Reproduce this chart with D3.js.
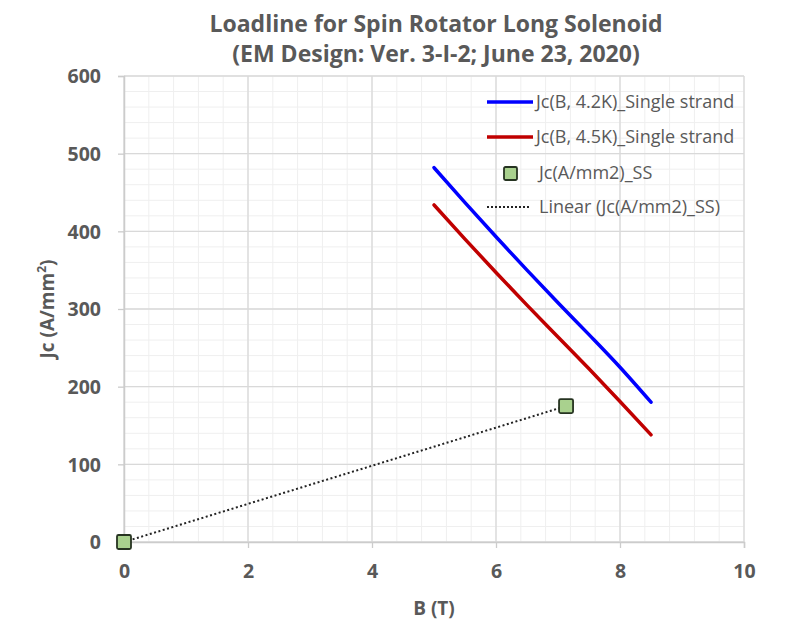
<!DOCTYPE html>
<html>
<head>
<meta charset="utf-8">
<script src="https://cdn.jsdelivr.net/npm/d3@7"></script>
<style>
  body { margin: 0; background: #fff; }
  svg { font-family: "Open Sans", "Noto Sans", sans-serif; }
</style>
</head>
<body>
<svg id="chart" width="790" height="620"></svg>
<script>
// curve samples, B in tesla, Jc in A/mm2
const bValues = [5.0, 5.5, 6.0, 6.5, 7.0, 7.5, 8.0, 8.5];
const jc42 = [482, 437, 393, 350, 308, 267, 225, 180];
const jc45 = [434, 390, 347, 305, 264, 223, 181, 138];
const ssB = [0, 7.13];
const ssJc = [0, 175];
const xTicks = [0, 2, 4, 6, 8, 10];
const yTicks = [0, 100, 200, 300, 400, 500, 600];
const legendLabels = [
  "Jc(B, 4.2K)_Single strand",
  "Jc(B, 4.5K)_Single strand",
  "Jc(A/mm2)_SS",
  "Linear (Jc(A/mm2)_SS)"
];

const svg = d3.select("#chart");
const margin = { left: 124, right: 46, top: 76, bottom: 78 };
const width = 790, height = 620;
const textColor = "#595959";

const x = d3.scaleLinear().domain([0, 10]).range([margin.left, width - margin.right]);
const y = d3.scaleLinear().domain([0, 600]).range([height - margin.bottom, margin.top]);

// minor grid
svg.append("g")
  .selectAll("line.vminor")
  .data(d3.range(0, 10.01, 0.4))
  .enter().append("line")
  .attr("x1", d => x(d)).attr("x2", d => x(d))
  .attr("y1", y(0)).attr("y2", y(600))
  .attr("stroke", "#efefef").attr("stroke-width", 1);
svg.append("g")
  .selectAll("line.hminor")
  .data(d3.range(0, 600.1, 20))
  .enter().append("line")
  .attr("x1", x(0)).attr("x2", x(10))
  .attr("y1", d => y(d)).attr("y2", d => y(d))
  .attr("stroke", "#efefef").attr("stroke-width", 1);

// major grid
svg.append("g")
  .selectAll("line")
  .data(xTicks)
  .enter().append("line")
  .attr("x1", d => x(d)).attr("x2", d => x(d))
  .attr("y1", y(0)).attr("y2", y(600))
  .attr("stroke", "#d9d9d9").attr("stroke-width", 1.3);
svg.append("g")
  .selectAll("line")
  .data(yTicks)
  .enter().append("line")
  .attr("x1", x(0)).attr("x2", x(10))
  .attr("y1", d => y(d)).attr("y2", d => y(d))
  .attr("stroke", "#d9d9d9").attr("stroke-width", 1.3);

// axes
const xAxis = svg.append("g")
  .attr("transform", `translate(0,${y(0)})`)
  .call(d3.axisBottom(x).tickValues(xTicks).tickSize(6).tickPadding(16));
const yAxis = svg.append("g")
  .attr("transform", `translate(${x(0)},0)`)
  .call(d3.axisLeft(y).tickValues(yTicks).tickSize(6).tickPadding(17));
[xAxis, yAxis].forEach(g => {
  g.select(".domain").attr("stroke", "#cccccc").attr("stroke-width", 1.5);
  g.selectAll(".tick line").attr("stroke", "#cccccc").attr("stroke-width", 1.3);
  g.selectAll(".tick text")
    .attr("fill", textColor)
    .attr("font-size", 19.5)
    .attr("font-weight", "bold")
    .attr("font-family", "'Open Sans', sans-serif");
});
yAxis.selectAll(".tick text").attr("dy", "0.35em");

// curves
const line = d3.line().x(d => x(d[0])).y(d => y(d[1])).curve(d3.curveMonotoneX);
svg.append("path")
  .datum(bValues.map((b, i) => [b, jc42[i]]))
  .attr("d", line)
  .attr("fill", "none").attr("stroke", "#0000ff").attr("stroke-width", 3.5)
  .attr("stroke-linecap", "round");
svg.append("path")
  .datum(bValues.map((b, i) => [b, jc45[i]]))
  .attr("d", line)
  .attr("fill", "none").attr("stroke", "#c00000").attr("stroke-width", 3.5)
  .attr("stroke-linecap", "round");

// linear trend
svg.append("line")
  .attr("x1", x(ssB[0])).attr("y1", y(ssJc[0]))
  .attr("x2", x(ssB[1])).attr("y2", y(ssJc[1]))
  .attr("stroke", "#222").attr("stroke-width", 2)
  .attr("stroke-dasharray", "2,2.5");

// SS points
svg.append("g")
  .selectAll("rect")
  .data(ssB.map((b, i) => [b, ssJc[i]]))
  .enter().append("rect")
  .attr("x", d => x(d[0]) - 7).attr("y", d => y(d[1]) - 7)
  .attr("width", 14).attr("height", 14).attr("rx", 1.5)
  .attr("fill", "#a9d18e").attr("stroke", "#263321").attr("stroke-width", 1.8);

// legend
const legend = svg.append("g");
const legendY = [102, 137, 173, 207];
legendLabels.forEach((label, i) => {
  const g = legend.append("g").attr("transform", `translate(487,${legendY[i]})`);
  if (i === 0 || i === 1) {
    g.append("line").attr("x1", 0).attr("x2", 46).attr("y1", 0).attr("y2", 0)
      .attr("stroke", i === 0 ? "#0000ff" : "#c00000").attr("stroke-width", 3.5);
  } else if (i === 2) {
    g.append("rect").attr("x", 17).attr("y", -6).attr("width", 13).attr("height", 13)
      .attr("rx", 1.5).attr("fill", "#a9d18e").attr("stroke", "#263321").attr("stroke-width", 1.8);
  } else {
    g.append("line").attr("x1", 0).attr("x2", 43).attr("y1", 0).attr("y2", 0)
      .attr("stroke", "#222").attr("stroke-width", 2).attr("stroke-dasharray", "2,2");
  }
  g.append("text")
    .attr("x", i < 2 ? 49 : 52).attr("y", 0).attr("dy", "0.35em")
    .attr("fill", textColor).attr("font-size", 18)
    .text(label);
});

// titles
const title = svg.append("text")
  .attr("x", 436).attr("text-anchor", "middle")
  .attr("fill", textColor).attr("font-size", 23).attr("font-weight", "bold");
title.append("tspan").attr("x", 436).attr("y", 32).text("Loadline for Spin Rotator Long Solenoid");
title.append("tspan").attr("x", 436).attr("y", 62).text("(EM Design: Ver. 3-I-2; June 23, 2020)");

svg.append("text")
  .attr("x", x(5)).attr("y", 615)
  .attr("text-anchor", "middle")
  .attr("fill", textColor).attr("font-size", 19).attr("font-weight", "bold")
  .text("B (T)");

const yTitle = svg.append("text")
  .attr("transform", `translate(54,${y(300)}) rotate(-90)`)
  .attr("text-anchor", "middle")
  .attr("fill", textColor).attr("font-size", 19).attr("font-weight", "bold");
yTitle.append("tspan").text("Jc (A/mm");
yTitle.append("tspan").attr("font-size", 12).attr("dy", -8).text("2");
yTitle.append("tspan").attr("dy", 8).text(")");
</script>
</body>
</html>
